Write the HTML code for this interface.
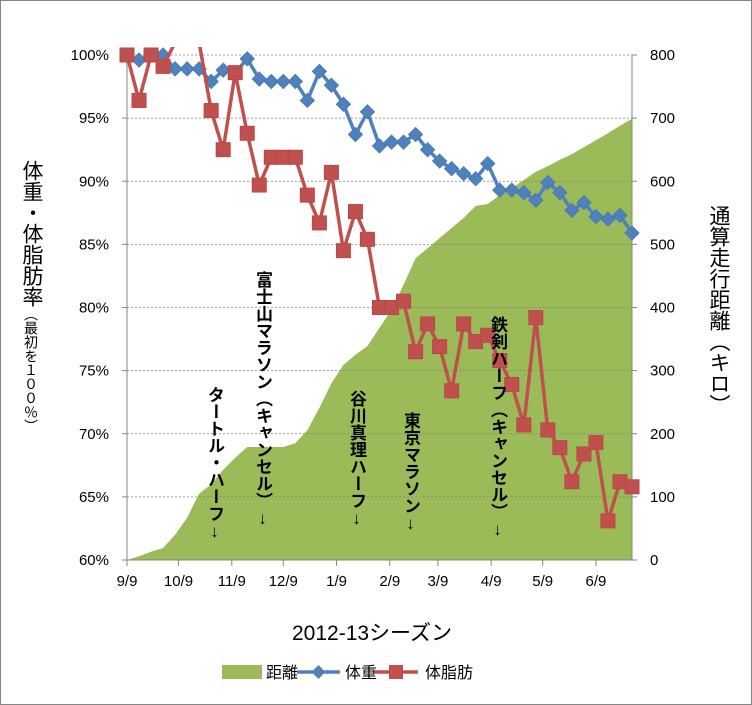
<!DOCTYPE html>
<html><head><meta charset="utf-8">
<style>
body{margin:0;background:#fff;}
#wrap{position:relative;width:752px;height:705px;overflow:hidden;font-family:"Liberation Sans","Noto Sans CJK JP",sans-serif;}
.vt{position:absolute;writing-mode:vertical-rl;font-weight:bold;font-size:17px;color:#000;line-height:1;font-family:"Liberation Sans","Noto Sans CJK JP",sans-serif;}
.up{text-orientation:upright;}
</style></head>
<body>
<div id="wrap">
<svg id="chart" width="752" height="705" style="position:absolute;left:0;top:0">
<rect x="0.5" y="0.5" width="751" height="704" fill="#fff" stroke="#868686"/>
</svg>
<div class="vt" style="left:206px;top:386px">タートル・ハーフ<span class="up">↓</span></div>
<div class="vt" style="left:254px;top:271px">富士山マラソン<span class="up">（キャンセル）↓</span></div>
<div class="vt" style="left:348px;top:390px">谷川真理ハーフ<span class="up">↓</span></div>
<div class="vt" style="left:402px;top:412px">東京マラソン<span class="up">↓</span></div>
<div class="vt" style="left:489px;top:316px">鉄剣ハーフ<span class="up">（キャンセル）↓</span></div>
<div style="position:absolute;left:18px;top:160px;width:26px;writing-mode:vertical-rl;font-size:21px;line-height:26px;color:#000">体重・体脂肪率<span style="font-size:14px" class="up">（最初を１００％）</span></div>
<div style="position:absolute;left:705px;top:205px;width:26px;writing-mode:vertical-rl;font-size:21px;line-height:26px;color:#000">通算走行距離<span class="up">（キロ）</span></div>
</div>
<script>
const weeks = 43;
const distance = [0,6,13,19,40,67,105,120,143,162,179,179,179,179,185,206,241,280,309,325,339,368,396,436,478,494,510,526,542,561,564,578,589,602,615,624,634,643,654,665,676,688,699];
const weight = [100,99.6,100,100,98.9,98.9,98.9,97.9,98.8,98.6,99.7,98.1,97.9,97.9,97.9,96.4,98.7,97.6,96.1,93.7,95.5,92.8,93.1,93.1,93.7,92.5,91.6,91.0,90.6,90.2,91.4,89.3,89.3,89.1,88.5,89.9,89.1,87.7,88.3,87.2,87.0,87.3,85.9];
const bodyFat = [100,96.4,100,99.1,101,101,101,95.6,92.5,98.6,93.8,89.7,91.9,91.9,91.9,88.9,86.7,90.7,84.5,87.6,85.4,80.0,80.0,80.5,76.5,78.7,76.9,73.4,78.7,77.3,77.8,75.8,73.9,70.7,79.2,70.3,68.9,66.2,68.4,69.3,63.1,66.2,65.8];
const leftTicks = ["60%","65%","70%","75%","80%","85%","90%","95%","100%"];
const rightTicks = ["0","100","200","300","400","500","600","700","800"];
const monthLabels = ["9/9","10/9","11/9","12/9","1/9","2/9","3/9","4/9","5/9","6/9"];
const monthDays = [0,30,61,91,122,153,181,212,242,273];

const X0=127, X1=632, Y0=560, Y1=55;
const step=(X1-X0)/(weeks-1);
const xw=i=>X0+i*step;
const xd=d=>X0+d/7*step;
const yL=v=>Y0-(v-60)/40*(Y0-Y1);
const yR=v=>Y0-v/800*(Y0-Y1);
const svg=document.getElementById('chart');
const NS='http://www.w3.org/2000/svg';
function mk(tag,attrs,parent){const e=document.createElementNS(NS,tag);for(const k in attrs)e.setAttribute(k,attrs[k]);(parent||svg).appendChild(e);return e;}

const defs=mk('defs',{});
const cp=mk('clipPath',{id:'plotclip'},defs);
mk('rect',{x:X0-8,y:Y1-8,width:X1-X0+16,height:Y0-Y1+16},cp);

let d='M'+xw(0)+','+Y0;
distance.forEach((v,i)=>{d+=' L'+xw(i).toFixed(1)+','+yR(v).toFixed(1);});
d+=' L'+xw(distance.length-1)+','+Y0+' Z';
const area=mk('path',{d:d,fill:'#9BBB59'});



leftTicks.forEach((t,i)=>{
  const v=60+i*5,y=yL(v);
  if(i>0){const g=mk('line',{x1:X0,x2:X1,y1:y,y2:y,stroke:'#7f7f7f','stroke-dasharray':'2,2','stroke-width':0.8});
  
  }
  mk('line',{x1:X0-5,x2:X0,y1:y,y2:y,stroke:'#868686'});
  const tx=mk('text',{x:X0-18,y:y+5,'text-anchor':'end','font-size':15,fill:'#000'});
  tx.textContent=t;
  
  
});
rightTicks.forEach((t,i)=>{
  const y=yR(+t);
  mk('line',{x1:X1,x2:X1+5,y1:y,y2:y,stroke:'#868686'});
  const tx=mk('text',{x:X1+18,y:y+5,'text-anchor':'start','font-size':15,fill:'#000'});
  tx.textContent=t;
  
  
});
mk('line',{x1:X0,x2:X0,y1:Y1,y2:Y0,stroke:'#868686'});
mk('line',{x1:X1,x2:X1,y1:Y1,y2:Y0,stroke:'#868686'});
mk('line',{x1:X0,x2:X1,y1:Y0,y2:Y0,stroke:'#868686'});
monthLabels.forEach((t,i)=>{
  const x=xd(monthDays[i]);
  mk('line',{x1:x,x2:x,y1:Y0,y2:Y0+6,stroke:'#868686'});
  const tx=mk('text',{x:x,y:Y0+26,'text-anchor':'middle','font-size':15,fill:'#000'});
  tx.textContent=t;
  
  
});
const xt=mk('text',{x:372,y:640,'text-anchor':'middle','font-size':21,fill:'#000'});
xt.textContent='2012-13シーズン';



const g=mk('g',{'clip-path':'url(#plotclip)'});
const wp=mk('polyline',{points:weight.map((v,i)=>xw(i).toFixed(1)+','+yL(v).toFixed(1)).join(' '),fill:'none',stroke:'#4F81BD','stroke-width':3.5},g);


weight.forEach((v,i)=>{
  const x=xw(i),y=yL(v);
  const p=mk('polygon',{points:`${x},${y-7} ${x+7},${y} ${x},${y+7} ${x-7},${y}`,fill:'#4F81BD',stroke:'#4a7ab4'},g);
  
  
});
const fp=mk('polyline',{points:bodyFat.map((v,i)=>xw(i).toFixed(1)+','+yL(v).toFixed(1)).join(' '),fill:'none',stroke:'#C0504D','stroke-width':3.5},g);


bodyFat.forEach((v,i)=>{
  if(v>100.5) return;
  const x=xw(i),y=yL(v);
  const r=mk('rect',{x:x-7,y:y-7,width:14,height:14,fill:'#C0504D',stroke:'#b8474a'},g);
  
  
});

const lg=mk('g',{});


mk('rect',{x:222,y:665,width:40,height:14,fill:'#9BBB59'},lg);
const l1=mk('text',{x:266,y:678,'font-size':16,fill:'#000'},lg);l1.textContent='距離';


mk('line',{x1:297,x2:340,y1:672,y2:672,stroke:'#4F81BD','stroke-width':3.5},lg);
mk('polygon',{points:'318.5,665 325.5,672 318.5,679 311.5,672',fill:'#4F81BD'},lg);
const l2=mk('text',{x:345,y:678,'font-size':16,fill:'#000'},lg);l2.textContent='体重';


mk('line',{x1:374,x2:418,y1:672,y2:672,stroke:'#C0504D','stroke-width':3.5},lg);
mk('rect',{x:389,y:665,width:14,height:14,fill:'#C0504D'},lg);
const l3=mk('text',{x:425,y:678,'font-size':16,fill:'#000'},lg);l3.textContent='体脂肪';


</script>
</body></html>
